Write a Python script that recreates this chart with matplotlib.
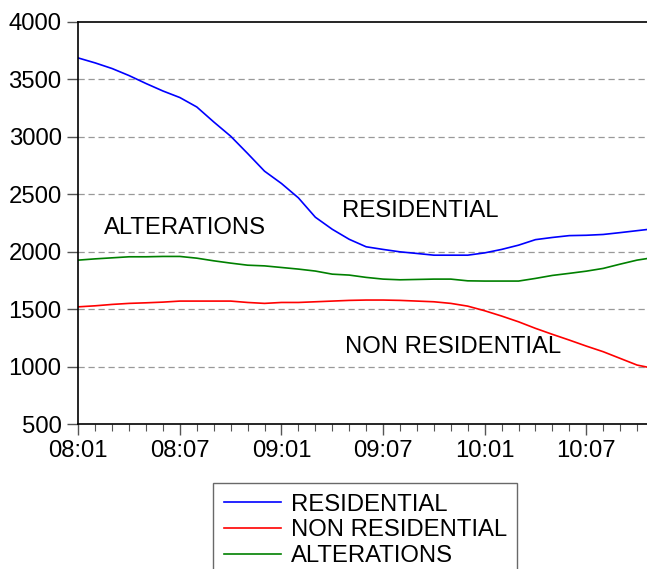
import numpy as np
import matplotlib
matplotlib.use("Agg")
import matplotlib.pyplot as plt
from matplotlib.ticker import MultipleLocator

# ===========================
# Data (monthly, 2008:01 - 2010:11)
# ===========================
months = np.arange(35)
tick_pos = [0, 6, 12, 18, 24, 30]
tick_labels = ["08:01", "08:07", "09:01", "09:07", "10:01", "10:07"]

residential = [3684, 3641, 3592, 3531, 3462, 3397, 3340, 3258, 3128, 3004,
               2854, 2700, 2593, 2468, 2300, 2195, 2108, 2043, 2020, 1999,
               1985, 1970, 1970, 1970, 1990, 2020, 2057, 2105, 2124, 2140,
               2143, 2150, 2166, 2183, 2200]
non_residential = [1521, 1530, 1542, 1551, 1556, 1562, 1571, 1571, 1571, 1571,
                   1559, 1551, 1559, 1559, 1565, 1571, 1577, 1580, 1580, 1577,
                   1571, 1565, 1551, 1527, 1487, 1441, 1391, 1334, 1282, 1232,
                   1180, 1131, 1073, 1015, 985]
alterations = [1927, 1938, 1947, 1956, 1956, 1959, 1959, 1944, 1921, 1901,
               1883, 1877, 1863, 1849, 1832, 1805, 1797, 1777, 1762, 1756,
               1759, 1762, 1762, 1747, 1745, 1745, 1745, 1768, 1794, 1812,
               1831, 1855, 1892, 1927, 1950]

plt.rcParams["font.family"] = ["Liberation Sans", "DejaVu Sans"]
fs = 17.2

fig = plt.figure(figsize=(6.47, 5.69), dpi=100)
ax = fig.add_axes([0.121, 0.2543, 0.8898, 0.7077])

ax.plot(months, residential, color="#0000FF", lw=1.2, label="RESIDENTIAL")
ax.plot(months, non_residential, color="#FF0000", lw=1.2, label="NON RESIDENTIAL")
ax.plot(months, alterations, color="#008000", lw=1.2, label="ALTERATIONS")

ax.set_xlim(0, 34)
ax.set_ylim(500, 4000)
ax.set_yticks(range(500, 4001, 500))
ax.set_xticks(tick_pos)
ax.set_xticklabels(tick_labels)
ax.xaxis.set_minor_locator(MultipleLocator(1))

for y in range(1000, 4000, 500):
    ax.axhline(y, color="#999999", lw=0.9, ls=(0, (5, 3)), zorder=0)

ax.tick_params(axis="both", which="major", labelsize=fs, direction="out",
               length=8, width=1.0, color="#555555")
ax.tick_params(axis="x", which="minor", direction="out", length=5,
               width=0.8, color="#555555")
ax.tick_params(axis="y", which="major", pad=4)
ax.tick_params(axis="x", which="major", pad=3)

for s in ["left", "bottom", "top"]:
    ax.spines[s].set_linewidth(1.2)
ax.spines["right"].set_visible(False)

ax.text(1.5, 2205, "ALTERATIONS", fontsize=fs, va="center", ha="left")
ax.text(15.6, 2355, "RESIDENTIAL", fontsize=fs, va="center", ha="left")
ax.text(15.75, 1172, "NON RESIDENTIAL", fontsize=fs, va="center", ha="left")

leg = fig.legend(loc="upper left", bbox_to_anchor=(0.329, 0.151),
                 fontsize=fs, frameon=True, fancybox=False,
                 edgecolor="#444444", borderaxespad=0, handlelength=2.4,
                 handletextpad=0.4, borderpad=0.45, labelspacing=0.15)
leg.get_frame().set_linewidth(1.0)

fig.savefig("out.png", dpi=100)
